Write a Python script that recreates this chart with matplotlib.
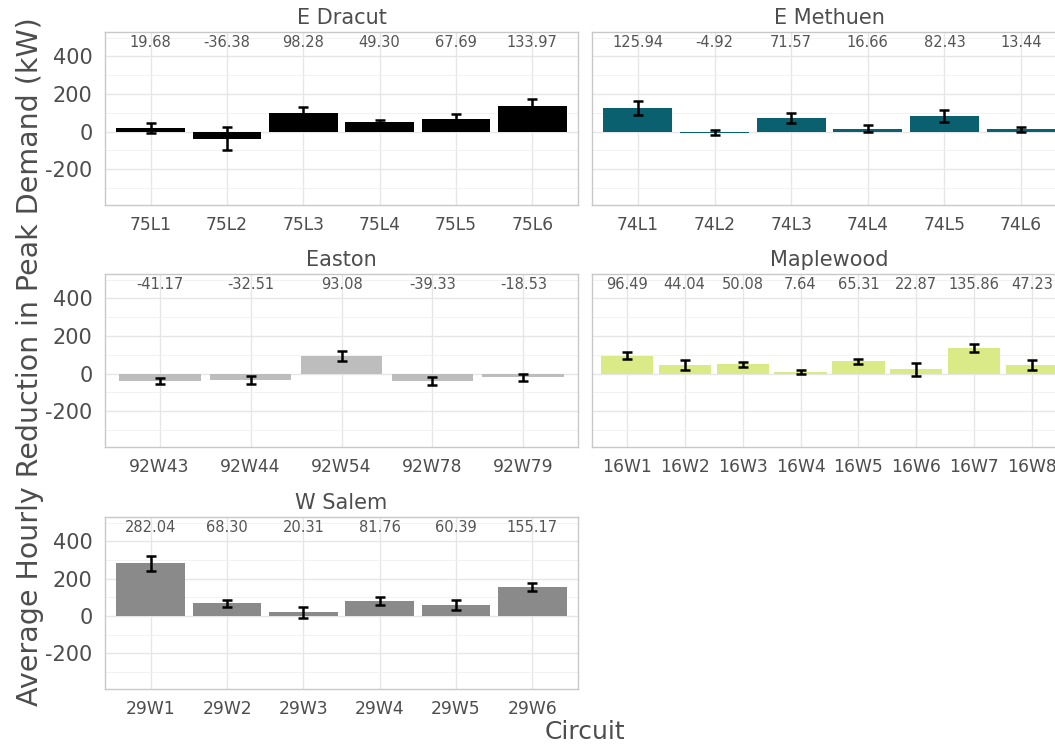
import matplotlib
matplotlib.use("Agg")
import matplotlib.pyplot as plt
from matplotlib.ticker import MultipleLocator

plt.rcParams['font.family'] = ['DejaVu Sans']

# ---------------- data ----------------
dracut_labels = ['75L1', '75L2', '75L3', '75L4', '75L5', '75L6']
dracut_vals = [19.68, -36.38, 98.28, 49.30, 67.69, 133.97]
dracut_err = [25, 60, 32, 11, 25, 38]

methuen_labels = ['74L1', '74L2', '74L3', '74L4', '74L5', '74L6']
methuen_vals = [125.94, -4.92, 71.57, 16.66, 82.43, 13.44]
methuen_err = [38, 15, 28, 20, 31, 13]

easton_labels = ['92W43', '92W44', '92W54', '92W78', '92W79']
easton_vals = [-41.17, -32.51, 93.08, -39.33, -18.53]
easton_err = [16, 20, 28, 20, 18]

maple_labels = ['16W1', '16W2', '16W3', '16W4', '16W5', '16W6', '16W7', '16W8']
maple_vals = [96.49, 44.04, 50.08, 7.64, 65.31, 22.87, 135.86, 47.23]
maple_err = [18, 27, 12, 12, 12, 34, 23, 27]

salem_labels = ['29W1', '29W2', '29W3', '29W4', '29W5', '29W6']
salem_vals = [282.04, 68.30, 20.31, 81.76, 60.39, 155.17]
salem_err = [40, 20, 29, 21, 28, 20]

panel_titles = ['E Dracut', 'E Methuen', 'Easton', 'Maplewood', 'W Salem']
panel_colors = ['#000000', '#0b6070', '#bdbdbd', '#d9ea86', '#8a8a8a']

# --------------- layout ----------------
W, H = 1055, 747
fig = plt.figure(figsize=(W / 100, H / 100), dpi=100)

def rect(x0, y_top, x1, y_bot):
    return [x0 / W, 1 - y_bot / H, (x1 - x0) / W, (y_bot - y_top) / H]

positions = [
    rect(105, 32, 578, 205),
    rect(592, 32, 1067, 205),
    rect(105, 274, 578, 447),
    rect(592, 274, 1067, 447),
    rect(105, 517, 578, 689),
]

panels = [
    (dracut_labels, dracut_vals, dracut_err),
    (methuen_labels, methuen_vals, methuen_err),
    (easton_labels, easton_vals, easton_err),
    (maple_labels, maple_vals, maple_err),
    (salem_labels, salem_vals, salem_err),
]

text_col = '#4d4d4d'
grid_col = '#e6e6e6'

for i, ((labels, vals, errs), pos) in enumerate(zip(panels, positions)):
    ax = fig.add_axes(pos)
    x = list(range(1, len(labels) + 1))
    ax.set_axisbelow(True)
    ax.bar(x, vals, width=0.9, color=panel_colors[i], zorder=2)
    ax.errorbar(x, vals, yerr=errs, fmt='none', ecolor='black',
                elinewidth=1.8, capsize=3.5, capthick=1.8, zorder=3)
    for xi, v in zip(x, vals):
        ax.text(xi, 472, f'{v:.2f}', ha='center', va='center',
                fontsize=10.5, color='#555555', zorder=4)
    ax.set_xlim(0.4, len(labels) + 0.6)
    ax.set_ylim(-390, 530)
    ax.set_xticks(x)
    ax.set_xticklabels(labels, fontsize=12.3, color=text_col)
    ax.set_yticks([-200, 0, 200, 400])
    ax.yaxis.set_minor_locator(MultipleLocator(100))
    if i % 2 == 0:
        ax.set_yticklabels(['-200', '0', '200', '400'], fontsize=15, color=text_col)
    else:
        ax.set_yticklabels([])
    ax.tick_params(axis='both', which='both', length=0)
    ax.tick_params(axis='x', pad=8)
    ax.tick_params(axis='y', pad=9)
    ax.grid(True, which='major', color=grid_col, linewidth=1.0)
    ax.grid(True, which='minor', axis='y', color='#f2f2f2', linewidth=0.7)
    for s in ax.spines.values():
        s.set_color('#c8c8c8')
        s.set_linewidth(1.0)
    ax.set_title(panel_titles[i], fontsize=15, color=text_col, pad=6)

fig.text(30 / W, 1 - 362 / H, 'Average Hourly Reduction in Peak Demand (kW)',
         rotation=90, ha='center', va='center', fontsize=20.5, color=text_col)
fig.text(585 / W, 1 - 732 / H, 'Circuit', ha='center', va='center',
         fontsize=18, color=text_col)

fig.savefig('out.png', dpi=100, facecolor='white')
